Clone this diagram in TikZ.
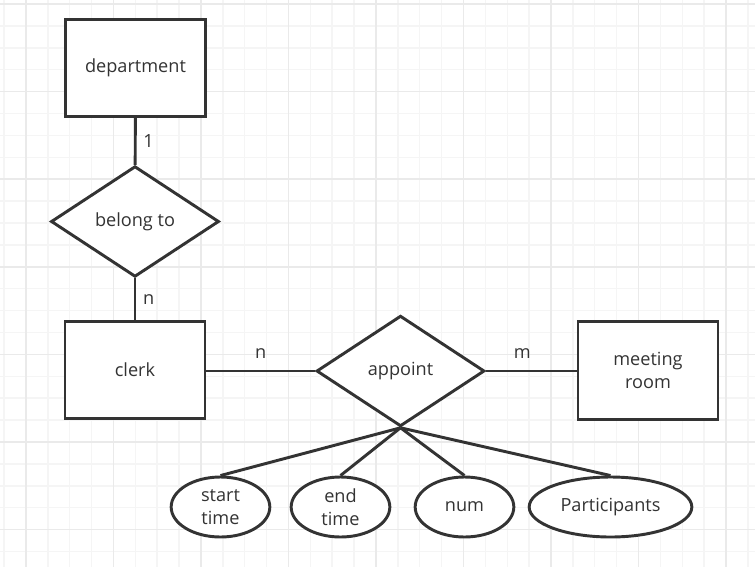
\documentclass[tikz,border=0pt]{standalone}
\usepackage{fontspec}
\setmainfont{Open Sans}
\usetikzlibrary{shapes.geometric}
\definecolor{inkgray}{HTML}{333333}
\definecolor{gridminor}{HTML}{F5F5F5}
\definecolor{gridmajor}{HTML}{EAEAEA}
\tikzset{
    entity/.style={rectangle, draw=inkgray, line width=2.2pt, fill=white,
        minimum width=105pt, minimum height=73pt, align=center},
    relation/.style={diamond, draw=inkgray, line width=2.2pt, fill=white,
        minimum width=126pt, minimum height=83pt, inner sep=0pt},
    attribute/.style={ellipse, draw=inkgray, line width=2.2pt, fill=white,
        minimum width=74pt, minimum height=45pt, inner sep=0pt, align=center},
    link/.style={draw=inkgray, line width=2.2pt},
    card/.style={text=inkgray, inner sep=5pt}
}
\begin{document}
\begin{tikzpicture}[x=0.75pt, y=-0.75pt, font=\fontsize{13.6}{17.3}\selectfont, text=inkgray]
        \useasboundingbox (0,0) rectangle (755,567);
        \fill[white] (0,0) rectangle (755,567);

        % background grid
        \foreach \k in {0,...,34} {
            \draw[gridminor, line width=1.1pt] ({4.1+21.875*\k},0) -- ({4.1+21.875*\k},567);
        }
        \foreach \k in {0,...,25} {
            \draw[gridminor, line width=1.1pt] (0,{4+21.9*\k}) -- (755,{4+21.9*\k});
        }
        \foreach \k in {0,...,8} {
            \draw[gridmajor, line width=1.1pt] ({26+87.5*\k},0) -- ({26+87.5*\k},567);
        }
        \foreach \k in {0,...,6} {
            \draw[gridmajor, line width=1.1pt] (0,{4+87.6*\k}) -- (755,{4+87.6*\k});
        }

        % entities and relations
        \node[entity] (department) at (135.5, 68) {department};
        \node[relation] (belongto) at (135, 221.5) {belong to};
        \node[entity] (clerk) at (135, 370) {clerk};
        \node[relation] (appoint) at (400.5, 371) {appoint};
        \node[entity] (meetingroom) at (648, 370.5) {meeting\\room};

        % attributes
        \node[attribute] (starttime) at (220.5, 507) {start\\time};
        \node[attribute] (endtime) at (340.5, 507) {end\\time};
        \node[attribute] (num) at (464.5, 507) {num};
        \node[attribute, minimum width=122pt] (participants) at (610.5, 507) {Participants};

        % connectors
        \draw[link] (department) -- node[card, right] {1} (belongto);
        \draw[link] (belongto) -- node[card, right] {n} (clerk);
        \draw[link] (clerk.east |- appoint.west) -- node[card, above, pos=0.5, yshift=3pt] {n} (appoint.west);
        \draw[link] (appoint.east) -- node[card, above, pos=0.4, yshift=3pt] {m} (meetingroom.west |- appoint.east);
        \draw[link] (appoint.south) -- (starttime.north);
        \draw[link] (appoint.south) -- (endtime.north);
        \draw[link] (appoint.south) -- (num.north);
        \draw[link] (appoint.south) -- (participants.north);

    \end{tikzpicture}
\end{document}
